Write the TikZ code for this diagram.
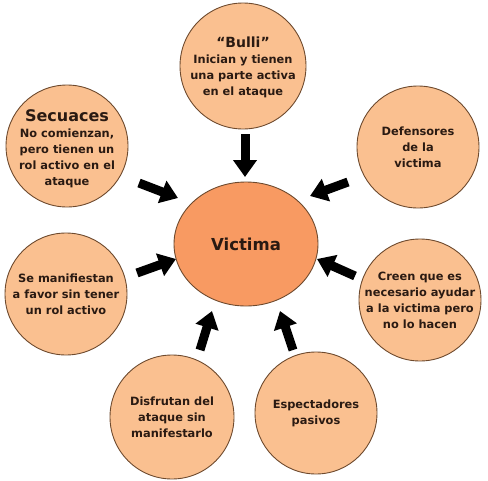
\documentclass[tikz,border=0pt]{standalone}
\usepackage{fontspec}
\setmainfont{DejaVu Sans}
\usetikzlibrary{arrows.meta,shapes.geometric}
\definecolor{peach}{HTML}{FAC090}
\definecolor{vict}{HTML}{F89A62}
\definecolor{rim}{HTML}{6E4A2E}
\definecolor{ink}{HTML}{2A1A12}
\tikzset{
  role/.style={circle, draw=rim, line width=0.9pt, fill=peach, minimum size=#1, inner sep=0pt},
  rtext/.style={align=center, text=ink, font=\fontsize{11.4}{16}\selectfont\bfseries, inner sep=0pt},
  bigarrow/.style={line width=9pt, -{Triangle[length=17pt,width=23pt]}, draw=black}
}
\begin{document}
\begin{tikzpicture}[x=1pt,y=-1pt]
\useasboundingbox (0,0) rectangle (488,480);
% circles
\node[role=126pt] (bulli) at (243,66) {};
\node[role=122pt] (secuaces) at (67,146) {};
\node[role=122pt] (defensores) at (418,147) {};
\node[role=122pt] (manif) at (66,294) {};
\node[role=122pt] (creen) at (420,300) {};
\node[role=124pt] (disfrutan) at (172,417) {};
\node[role=122pt] (espect) at (316,413) {};
\node[ellipse, draw=rim, line width=0.9pt, fill=vict, minimum width=144pt, minimum height=124pt, inner sep=0pt] (victima) at (246,244) {};
% texts
\node[rtext] at ([yshift=-1pt]bulli) {{\fontsize{14}{17}\selectfont “Bulli”}\\Inician y tienen\\una parte activa\\en el ataque};
\node[rtext] at ([yshift=-3pt]secuaces) {{\fontsize{16}{18}\selectfont Secuaces}\\No comienzan,\\pero tienen un\\rol activo en el\\ataque};
\node[rtext] at (defensores) {Defensores\\de la\\victima};
\node[rtext] at (manif) {Se manifiestan\\a favor sin tener\\un rol activo};
\node[rtext] at (creen) {Creen que es\\necesario ayudar\\a la victima pero\\no lo hacen};
\node[rtext] at (disfrutan) {Disfrutan del\\ataque sin\\manifestarlo};
\node[rtext] at (espect) {Espectadores\\pasivos};
\node[rtext, font=\fontsize{16.5}{19}\selectfont\bfseries] at (victima) {Victima};
% arrow ends
\coordinate (a1s) at (245,134); \coordinate (a1e) at (245,177);
\coordinate (a2s) at (139,183); \coordinate (a2e) at (178,198);
\coordinate (a3s) at (348,182); \coordinate (a3e) at (310,196);
\coordinate (a4s) at (137,273); \coordinate (a4e) at (176,259);
\coordinate (a5s) at (355,276); \coordinate (a5e) at (317,259);
\coordinate (a6s) at (200,350); \coordinate (a6e) at (212,311);
\coordinate (a7s) at (293,350); \coordinate (a7e) at (280,311);
\foreach \i in {1,...,7} \draw[bigarrow] (a\i s) -- (a\i e);
\end{tikzpicture}
\end{document}
